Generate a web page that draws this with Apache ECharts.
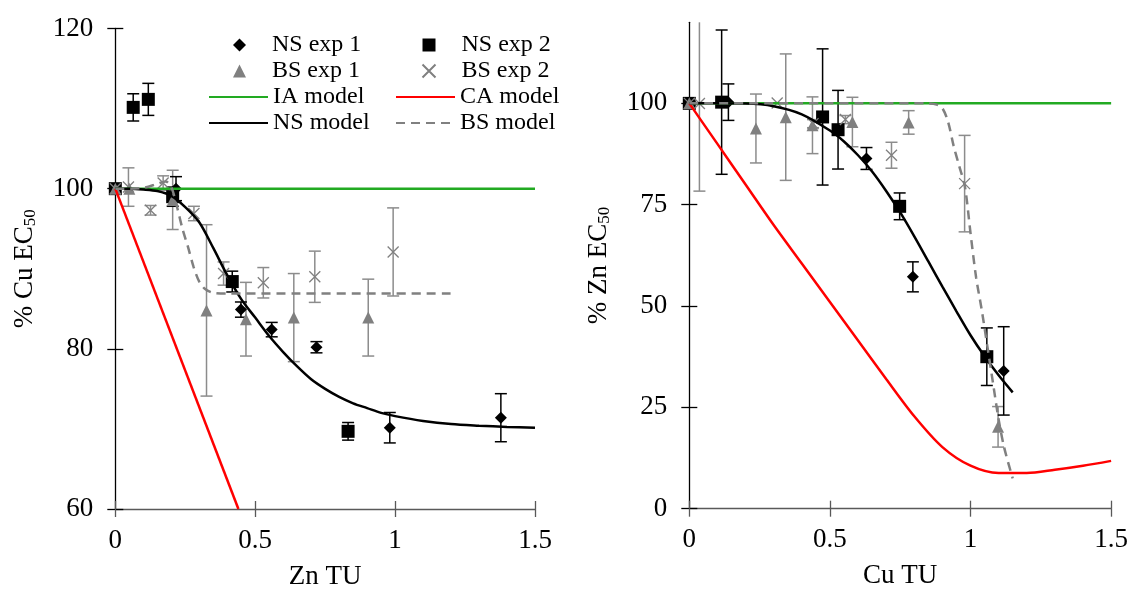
<!DOCTYPE html>
<html>
<head>
<meta charset="utf-8">
<script src="https://cdn.jsdelivr.net/npm/echarts@6/dist/echarts.min.js"></script>
<style>
html,body{margin:0;padding:0;background:#fff;}
#main{width:1131px;height:595px;}
</style>
</head>
<body>
<div id="main"></div>
<script>
// ---------- Left panel (x: Zn TU, y: % Cu EC50) : [x, y, error] ----------
const leftNsExp1 = [[0,100,0],[0.217,100.0,1.5],[0.449,84.9,0.95],[0.559,82.4,0.9],[0.719,80.2,0.7],[0.981,70.15,1.9],[1.378,71.4,3.0]];
const leftNsExp2 = [[0,100,0],[0.064,110.15,1.7],[0.118,111.15,2.0],[0.205,99.0,1.2],[0.418,88.4,1.3],[0.832,69.7,1.1]];
const leftBsExp1 = [[0,100,0],[0.05,100,0],[0.205,98.6,3.7],[0.326,84.8,10.7],[0.467,83.7,4.6],[0.638,83.9,5.5],[0.904,83.9,4.8]];
const leftBsExp2 = [[0,100,0],[0.047,100.2,2.4],[0.126,97.3,0.6],[0.171,100.7,0.9],[0.281,96.9,0.9],[0.387,89.4,1.45],[0.529,88.25,1.9],[0.713,89.0,3.2],[0.993,92.1,5.5]];
const leftIaModel = [[0,100],[1.5,100]];
const leftCaModel = [[0,100],[0.44,60]];
const leftNsModel = [[0,100],[0.05,100],[0.1,99.9],[0.15,99.7],[0.2,99.1],[0.25,97.7],[0.3,95.8],[0.35,92.6],[0.4,89.2],[0.45,86.2],[0.5,83.9],[0.55,81.6],[0.6,79.6],[0.65,77.8],[0.7,76.2],[0.75,75.0],[0.8,74.0],[0.85,73.2],[0.9,72.6],[0.95,72.0],[1.0,71.6],[1.1,71.0],[1.2,70.6],[1.3,70.4],[1.4,70.25],[1.5,70.15]];
const leftBsModel = [[0,100],[0.05,100],[0.1,100.1],[0.15,100.6],[0.18,100.9],[0.2,100.2],[0.22,97.8],[0.24,95.0],[0.26,92.7],[0.28,90.2],[0.3,88.4],[0.32,87.5],[0.35,87.0],[0.4,86.9],[1.2,86.9]];

// ---------- Right panel (x: Cu TU, y: % Zn EC50) ----------
const rightNsExp1 = [[0,100,0],[0.139,100.3,4.5],[0.63,86.4,2.7],[0.795,57.2,3.7],[1.118,34.0,10.9]];
const rightNsExp2 = [[0,100,0],[0.115,100.3,17.8],[0.474,96.65,16.8],[0.529,93.5,9.7],[0.748,74.6,3.3],[1.058,37.5,7.1]];
const rightBsExp1 = [[0,100,0],[0.237,93.8,8.5],[0.343,96.6,15.6],[0.438,94.6,7.0],[0.58,95.4,6.1],[0.78,95.3,2.9],[1.098,20.2,5.0]];
const rightBsExp2 = [[0,100,0],[0.036,99.95,21.6],[0.3125,100.1,0],[0.44,95.0,1.0],[0.555,96.0,1.0],[0.719,87.2,3.2],[0.979,80.2,11.9]];
const rightIaModel = [[0,100],[1.5,100]];
const rightCaModel = [[0,100],[0.1,90],[0.2,80],[0.3,70],[0.4,60.5],[0.5,51],[0.6,41.5],[0.7,32],[0.8,22.8],[0.9,15.2],[1.0,10.6],[1.1,8.8],[1.2,8.8],[1.3,9.6],[1.4,10.6],[1.5,11.8]];
const rightNsModel = [[0,100],[0.1,100],[0.2,99.95],[0.3,99.3],[0.4,97.3],[0.5,93.3],[0.55,90.6],[0.6,87.2],[0.65,83.2],[0.7,78.4],[0.75,73.1],[0.8,67.2],[0.85,61.0],[0.9,54.8],[0.95,48.7],[1.0,42.8],[1.05,37.6],[1.1,32.9],[1.15,28.7]];
const rightBsModel = [[0,100],[0.85,100],[0.88,99.7],[0.9,98.8],[0.92,95.5],[0.94,89.5],[0.96,84.5],[0.98,79.5],[1.0,68],[1.02,57],[1.04,49],[1.06,40],[1.08,31],[1.1,22],[1.12,15],[1.15,7.5]];

// ---------- Axis ticks ----------
const xTicks = [0, 0.5, 1, 1.5];
const leftYTicks = [60, 80, 100, 120];
const rightYTicks = [0, 25, 50, 75, 100];

const FONT = 'Liberation Serif';
const BLACK = '#000000';
const GRAY = '#808080';
const GREEN = '#22aa22';
const RED = '#ff0000';
const XPATH = 'path://M0,0L10,10M10,0L0,10';

const chart = echarts.init(document.getElementById('main'), null, {renderer: 'canvas'});

function errRender(color) {
  return function (params, api) {
    const x = api.value(0), y = api.value(1), e = api.value(2);
    if (!e) return null;
    const cs = params.coordSys;
    const top = api.coord([x, y + e]);
    const bot = api.coord([x, y - e]);
    const children = [];
    let capTop = true, capBot = true;
    if (top[1] < cs.y) { top[1] = cs.y; capTop = false; }
    if (bot[1] > cs.y + cs.height) { bot[1] = cs.y + cs.height; capBot = false; }
    const st = {stroke: color, lineWidth: 1.5};
    children.push({type: 'line', shape: {x1: top[0], y1: top[1], x2: bot[0], y2: bot[1]}, style: st});
    const hw = 6;
    if (capTop) children.push({type: 'line', shape: {x1: top[0] - hw, y1: top[1], x2: top[0] + hw, y2: top[1]}, style: st});
    if (capBot) children.push({type: 'line', shape: {x1: bot[0] - hw, y1: bot[1], x2: bot[0] + hw, y2: bot[1]}, style: st});
    return {type: 'group', children: children};
  };
}

function errSeries(data, color, gi) {
  return {type: 'custom', xAxisIndex: gi * 2, yAxisIndex: gi * 2, data: data, renderItem: errRender(color), z: 1, silent: true, encode: {x: 0, y: 1}};
}
function scat(name, data, symbol, size, color, gi, stroke) {
  const s = {name: name, type: 'scatter', xAxisIndex: gi * 2, yAxisIndex: gi * 2, data: data.map(d => [d[0], d[1]]), symbol: symbol, symbolSize: size, z: 3,
    itemStyle: {color: color, opacity: 1}};
  if (stroke) s.itemStyle = {color: 'none', borderColor: color, borderWidth: 1.3, opacity: 1};
  return s;
}
function line(name, data, color, gi, dashed) {
  return {name: name, type: 'line', xAxisIndex: gi * 2, yAxisIndex: gi * 2, data: data, symbol: 'none', smooth: 0.3, z: 4,
    lineStyle: {color: color, width: 2.5, type: dashed ? [9, 6] : 'solid'}, itemStyle: {color: color}};
}

const axisLabelStyle = {fontFamily: FONT, fontSize: 27, color: '#000'};
const nameStyle = {fontFamily: FONT, fontSize: 27, color: '#000'};

function xAxes(gi, name) {
  const base = {type: 'value', gridIndex: gi, min: 0, max: 1.5, interval: 0.5, position: 'bottom', splitLine: {show: false}};
  return [
    Object.assign({}, base, {
      name: name, nameLocation: 'middle', nameGap: 54, nameTextStyle: nameStyle,
      axisLine: {show: true, lineStyle: {color: '#595959', width: 1.3}},
      axisTick: {show: true, inside: false, length: 8, lineStyle: {color: '#595959', width: 1.3}},
      axisLabel: Object.assign({margin: 18, formatter: v => xTicks.includes(v) ? String(v) : ''}, axisLabelStyle)
    }),
    Object.assign({}, base, {
      axisLine: {show: false},
      axisTick: {show: true, inside: true, length: 8, lineStyle: {color: '#595959', width: 1.3}},
      axisLabel: {show: false}
    })
  ];
}
function yAxes(gi, min, max, interval, ticks, name, nameGap) {
  const base = {type: 'value', gridIndex: gi, min: min, max: max, interval: interval, position: 'left', splitLine: {show: false}};
  return [
    Object.assign({}, base, {
      name: name, nameLocation: 'middle', nameGap: nameGap, nameTextStyle: Object.assign({}, nameStyle, {
        rich: {n: {fontFamily: FONT, fontSize: 27}, s: {fontFamily: FONT, fontSize: 17, padding: [12, 0, 0, 0]}}}),
      axisLine: {show: true, lineStyle: {color: '#000', width: 1.3}},
      axisTick: {show: true, inside: false, length: 8, lineStyle: {color: '#000', width: 1.3}, customValues: ticks},
      axisLabel: Object.assign({margin: 22, customValues: ticks}, axisLabelStyle)
    }),
    Object.assign({}, base, {
      axisLine: {show: false},
      axisTick: {show: true, inside: true, length: 8, lineStyle: {color: '#000', width: 1.3}, customValues: ticks},
      axisLabel: {show: false}
    })
  ];
}

const legendBase = {orient: 'vertical', itemGap: 2, itemHeight: 13,
  textStyle: {fontFamily: FONT, fontSize: 24, color: '#000'}, selectedMode: false};
const markerLegend = Object.assign({}, legendBase, {itemWidth: 13,
  textStyle: {fontFamily: FONT, fontSize: 24, color: '#000', padding: [0, 0, 0, 21]}});
const lineLegend = Object.assign({}, legendBase, {itemWidth: 59});
const hideSym = name => ({name: name, itemStyle: {opacity: 0}});

const option = {
  animation: false,
  backgroundColor: '#fff',
  grid: [
    {left: 115.3, top: 28.5, width: 419.7, height: 480.5},
    {left: 689.3, top: 22.3, width: 422.4, height: 486.4}
  ],
  legend: [
    Object.assign({}, markerLegend, {left: 228, top: 28, data: ['NS exp 1', 'BS exp 1']}),
    Object.assign({}, markerLegend, {left: 415, top: 28, data: ['NS exp 2', 'BS exp 2']}),
    Object.assign({}, lineLegend, {left: 203, top: 80, data: [hideSym('IA model'), hideSym('NS model')]}),
    Object.assign({}, lineLegend, {left: 390, top: 80, data: [hideSym('CA model'), hideSym('BS model')]})
  ],
  xAxis: [].concat(xAxes(0, 'Zn TU'), xAxes(1, 'Cu TU')),
  yAxis: [].concat(
    yAxes(0, 60, 120, 20, leftYTicks, '{n|% Cu EC}{s|50}', 76),
    yAxes(1, 0, 120, 25, rightYTicks, '{n|% Zn EC}{s|50}', 76)
  ),
  series: [
    // left panel
    errSeries(leftBsExp1, '#8c8c8c', 0),
    errSeries(leftBsExp2, '#8c8c8c', 0),
    errSeries(leftNsExp1, BLACK, 0),
    errSeries(leftNsExp2, BLACK, 0),
    scat('NS exp 1', leftNsExp1, 'diamond', 12, BLACK, 0),
    scat('NS exp 2', leftNsExp2, 'rect', 13, BLACK, 0),
    scat('BS exp 1', leftBsExp1, 'triangle', 12, GRAY, 0),
    scat('BS exp 2', leftBsExp2, XPATH, 11, GRAY, 0, true),
    line('IA model', leftIaModel, GREEN, 0),
    line('CA model', leftCaModel, RED, 0),
    line('NS model', leftNsModel, BLACK, 0),
    line('BS model', leftBsModel, GRAY, 0, true),
    // right panel
    errSeries(rightBsExp1, '#8c8c8c', 1),
    errSeries(rightBsExp2, '#8c8c8c', 1),
    errSeries(rightNsExp1, BLACK, 1),
    errSeries(rightNsExp2, BLACK, 1),
    scat('NS exp 1', rightNsExp1, 'diamond', 12, BLACK, 1),
    scat('NS exp 2', rightNsExp2, 'rect', 13, BLACK, 1),
    scat('BS exp 1', rightBsExp1, 'triangle', 12, GRAY, 1),
    scat('BS exp 2', rightBsExp2, XPATH, 11, GRAY, 1, true),
    line('IA model', rightIaModel, GREEN, 1),
    line('CA model', rightCaModel, RED, 1),
    line('NS model', rightNsModel, BLACK, 1),
    line('BS model', rightBsModel, GRAY, 1, true)
  ]
};
chart.setOption(option);
</script>
</body>
</html>
